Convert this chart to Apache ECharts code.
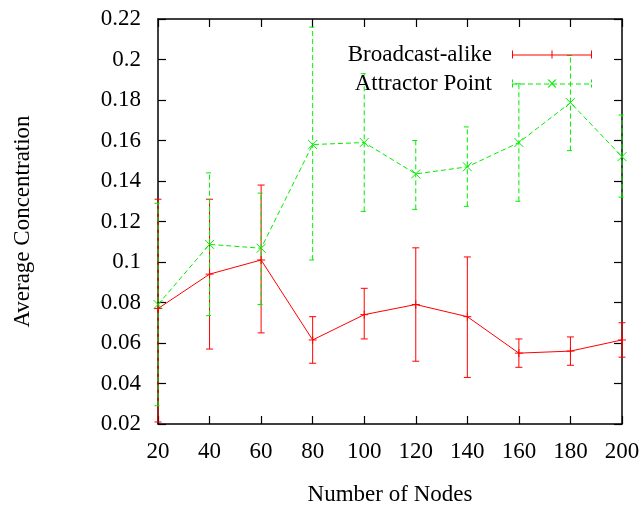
<!DOCTYPE html>
<html>
<head>
<meta charset="utf-8">
<script src="https://cdn.jsdelivr.net/npm/echarts@6/dist/echarts.min.js"></script>
<style>
html, body { margin: 0; padding: 0; background: #fff; }
#chart { width: 643px; height: 508px; }
</style>
</head>
<body>
<div id="chart"></div>
<script>
var nodes = [20, 40, 60, 80, 100, 120, 140, 160, 180, 200];

var broadcastMean = [0.077, 0.094, 0.101, 0.0615, 0.074, 0.079, 0.073, 0.055, 0.056, 0.0615];
var broadcastLow  = [0.021, 0.057, 0.065, 0.050, 0.062, 0.051, 0.043, 0.048, 0.049, 0.053];
var broadcastHigh = [0.131, 0.131, 0.138, 0.073, 0.087, 0.107, 0.1025, 0.062, 0.063, 0.070];

var attractorMean = [0.079, 0.1087, 0.1068, 0.158, 0.159, 0.1435, 0.147, 0.159, 0.1787, 0.152];
var attractorLow  = [0.029, 0.0735, 0.079, 0.101, 0.125, 0.126, 0.1275, 0.130, 0.155, 0.132];
var attractorHigh = [0.129, 0.144, 0.134, 0.216, 0.193, 0.160, 0.1667, 0.188, 0.202, 0.1726];

var RED = '#ff0000';
var GREEN = '#00ee00';
var FONT = 'Liberation Serif';

function pairs(xs, ys) {
    return xs.map(function (x, i) { return [x, ys[i]]; });
}
function triples(xs, lo, hi) {
    return xs.map(function (x, i) { return [x, lo[i], hi[i]]; });
}

// error bar: vertical line + caps, through the axis scale
function errorBars(color, dash) {
    return function (params, api) {
        var x = api.value(0);
        var lo = api.coord([x, api.value(1)]);
        var hi = api.coord([x, api.value(2)]);
        var w = 3.5;
        var style = { stroke: color, lineWidth: 1, lineDash: dash, fill: null };
        return {
            type: 'group',
            children: [
                { type: 'line', shape: { x1: lo[0], y1: lo[1], x2: hi[0], y2: hi[1] }, style: style },
                { type: 'line', shape: { x1: hi[0] - w, y1: hi[1], x2: hi[0] + w, y2: hi[1] }, style: style },
                { type: 'line', shape: { x1: lo[0] - w, y1: lo[1], x2: lo[0] + w, y2: lo[1] }, style: style }
            ]
        };
    };
}

// legend samples (80 x 8 box), gnuplot style
var redIcon = 'path://M0,4 H80 V5 H0 Z M0,0 H1 V8 H0 Z M79,0 H80 V8 H79 Z M39.5,0 H40.5 V8 H39.5 Z';
var greenIcon = 'path://M0,0 H1 V3 H0 Z M0,5 H1 V8 H0 Z M79,0 H80 V3 H79 Z M79,5 H80 V8 H79 Z';
for (var d = 0; d < 80; d += 8) {
    greenIcon += ' M' + d + ',4 H' + Math.min(d + 5, 80) + ' V5 H' + d + ' Z';
}
greenIcon += ' M35.5,0 L37,0 L44.5,8 L43,8 Z M43,0 L44.5,0 L37,8 L35.5,8 Z';

var chart = echarts.init(document.getElementById('chart'));

var tickStyle = { inside: true, length: 8, lineStyle: { color: '#000', width: 1.2 } };
var lineStyle = { lineStyle: { color: '#000', width: 1.5 } };

option = {
    animation: false,
    backgroundColor: '#fff',
    grid: { left: 158, right: 21, top: 19, bottom: 84, outerBoundsMode: 'none' },
    legend: {
        orient: 'vertical',
        right: 51,
        top: 43,
        padding: 0,
        align: 'right',
        itemWidth: 80,
        itemHeight: 8,
        itemGap: 6,
        selectedMode: false,
        itemStyle: { borderWidth: 0 },
        textStyle: { fontFamily: FONT, fontSize: 23, color: '#000', lineHeight: 20, padding: [0, 15, 0, 0] },
        data: [
            { name: 'Broadcast-alike', icon: redIcon },
            { name: 'Attractor Point', icon: greenIcon }
        ]
    },
    xAxis: [{
        type: 'value', min: 20, max: 200, interval: 20, position: 'bottom',
        axisLine: lineStyle, axisTick: tickStyle, splitLine: { show: false },
        axisLabel: { fontFamily: FONT, fontSize: 23, color: '#000', margin: 16 },
        name: 'Number of Nodes', nameLocation: 'middle', nameGap: 59,
        nameTextStyle: { fontFamily: FONT, fontSize: 23, color: '#000' }
    }, {
        type: 'value', min: 20, max: 200, interval: 20, position: 'top',
        axisLine: lineStyle, axisTick: tickStyle, splitLine: { show: false },
        axisLabel: { show: false }
    }],
    yAxis: [{
        type: 'value', min: 0.02, max: 0.22, interval: 0.02, position: 'left',
        axisLine: lineStyle, axisTick: tickStyle, splitLine: { show: false },
        axisLabel: { fontFamily: FONT, fontSize: 23, color: '#000', margin: 17 },
        name: 'Average Concentration', nameLocation: 'middle', nameGap: 124,
        nameTextStyle: { fontFamily: FONT, fontSize: 23, color: '#000' }
    }, {
        type: 'value', min: 0.02, max: 0.22, interval: 0.02, position: 'right',
        axisLine: lineStyle, axisTick: tickStyle, splitLine: { show: false },
        axisLabel: { show: false }
    }],
    series: [{
        name: 'Broadcast-alike err',
        type: 'custom',
        renderItem: errorBars(RED, null),
        encode: { x: 0, y: [1, 2] },
        data: triples(nodes, broadcastLow, broadcastHigh),
        clip: false,
        silent: true
    }, {
        name: 'Broadcast-alike',
        type: 'line',
        data: pairs(nodes, broadcastMean),
        symbol: 'path://M0,4 L8,4 M4,0 L4,8',
        symbolSize: 8,
        itemStyle: { color: RED, borderColor: RED, borderWidth: 1 },
        lineStyle: { color: RED, width: 1 },
        emphasis: { disabled: true },
        clip: false
    }, {
        name: 'Attractor Point err',
        type: 'custom',
        renderItem: errorBars(GREEN, [5, 3]),
        encode: { x: 0, y: [1, 2] },
        data: triples(nodes, attractorLow, attractorHigh),
        clip: false,
        silent: true
    }, {
        name: 'Attractor Point',
        type: 'line',
        data: pairs(nodes, attractorMean),
        symbol: 'path://M0,0 L8,8 M8,0 L0,8',
        symbolSize: 9,
        itemStyle: { color: GREEN, borderColor: GREEN, borderWidth: 1 },
        lineStyle: { color: GREEN, width: 1, type: [5, 3] },
        emphasis: { disabled: true },
        clip: false
    }]
};

chart.setOption(option);
</script>
</body>
</html>
